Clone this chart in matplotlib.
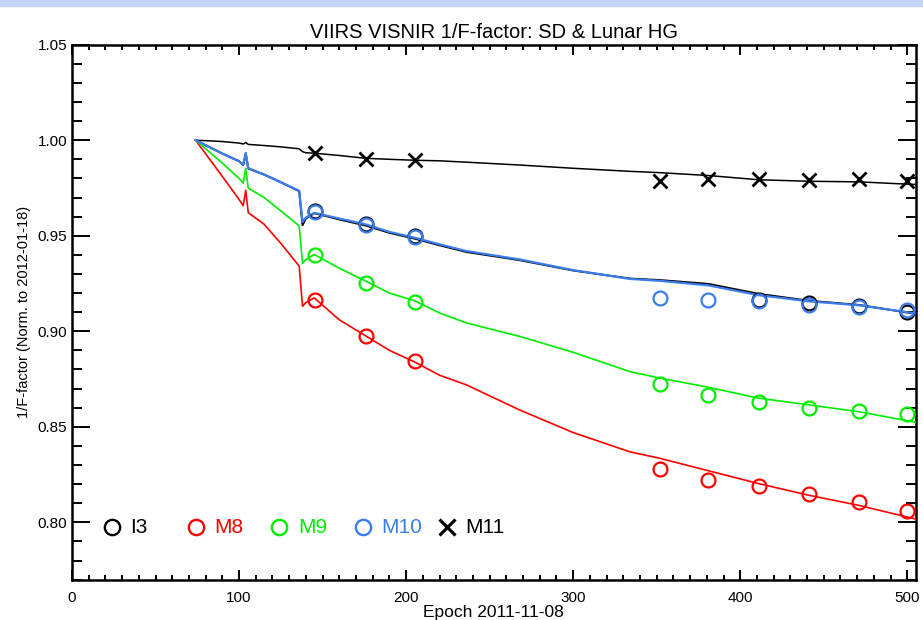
"""VIIRS VISNIR 1/F-factor trends (SD + lunar), recreated from the slide figure."""

import numpy as np
import matplotlib
matplotlib.use("Agg")
import matplotlib.pyplot as plt
from matplotlib.patches import Rectangle
from matplotlib.ticker import MultipleLocator, FormatStrFormatter

plt.rcParams["font.family"] = ["Liberation Sans", "DejaVu Sans"]

# --- SD-based 1/F-factor curves (days since 2011-11-08) ---
sd_epoch = [74, 90, 100, 102.5, 104, 105.5, 115, 125, 136, 138, 140, 145, 160, 176,
            190, 205, 220, 236, 268, 300, 334, 352, 381, 411, 441, 471, 500, 506]
sd_m8 = [1.000, 0.981, 0.969, 0.9657, 0.9738, 0.9621, 0.956, 0.946, 0.9341, 0.9131, 0.9150,
         0.9175, 0.906, 0.8975, 0.890, 0.884, 0.877, 0.872, 0.8588, 0.847, 0.8369, 0.8335,
         0.8270, 0.8203, 0.8142, 0.8089, 0.8028, 0.8015]
sd_m9 = [1.000, 0.988, 0.980, 0.9775, 0.9853, 0.9749, 0.970, 0.963, 0.9552, 0.9355, 0.9375,
         0.9402, 0.933, 0.9262, 0.920, 0.9160, 0.9096, 0.9044, 0.8973, 0.889, 0.8789, 0.8755,
         0.8707, 0.8650, 0.8615, 0.8579, 0.8532, 0.8522]
sd_m10 = [1.000, 0.993, 0.989, 0.9871, 0.9933, 0.9854, 0.982, 0.978, 0.9735, 0.9572, 0.9595,
          0.9620, 0.959, 0.9559, 0.952, 0.949, 0.9455, 0.942, 0.9376, 0.932, 0.9274, 0.9264,
          0.9240, 0.9189, 0.9157, 0.9136, 0.9100, 0.9092]
sd_i3 = [1.000, 0.993, 0.989, 0.9870, 0.9930, 0.9852, 0.982, 0.978, 0.9733, 0.9555, 0.9590,
         0.9618, 0.9585, 0.9553, 0.9515, 0.9485, 0.9450, 0.9415, 0.9372, 0.9318, 0.9276, 0.9268,
         0.9248, 0.9196, 0.9160, 0.9138, 0.9098, 0.9090]
sd_m11 = [1.000, 0.9993, 0.9985, 0.9980, 0.9988, 0.9978, 0.9972, 0.9965, 0.9955, 0.9940, 0.9934,
          0.9932, 0.9920, 0.9905, 0.9900, 0.9895, 0.9892, 0.9885, 0.9870, 0.9853, 0.9837, 0.9830,
          0.9815, 0.9793, 0.9785, 0.9782, 0.9770, 0.9768]

# --- lunar-based points ---
lunar_epoch = [145.5, 176, 205.3, 352, 381, 411, 441, 471, 500]
lunar_m8 = [0.9163, 0.8977, 0.8842, 0.8278, 0.8221, 0.8191, 0.8151, 0.8107, 0.8058]
lunar_m9 = [0.9397, 0.9254, 0.9153, 0.8723, 0.8667, 0.8629, 0.8600, 0.8581, 0.8566]
lunar_m10 = [0.9625, 0.9557, 0.9492, 0.9174, 0.9166, 0.9157, 0.9138, 0.9128, 0.9113]
lunar_i3 = [0.9630, 0.9562, 0.9500, np.nan, np.nan, 0.9166, 0.9149, 0.9130, 0.9101]
lunar_m11 = [0.9932, 0.9903, 0.9897, 0.9784, 0.9796, 0.9796, 0.9791, 0.9796, 0.9784]

band_names = ["I3", "M8", "M9", "M10", "M11"]

RED, GREEN, BLUE, BLACK = "#ff0000", "#00ee00", "#3b7ded", "#000000"
band_colors = [BLACK, RED, GREEN, BLUE, BLACK]
band_marks = ["o", "o", "o", "o", "x"]

fig = plt.figure(figsize=(9.23, 6.20), dpi=100)
fig.patches.append(Rectangle((0, 0.991), 1, 0.009, transform=fig.transFigure,
                             color="#c6d3fa", zorder=0))
ax = fig.add_axes([0.078, 0.065, 0.914, 0.863])

ax.plot(sd_epoch, sd_m11, color=BLACK, lw=1.1, zorder=2)
ax.plot(sd_epoch, sd_i3, color=BLACK, lw=1.4, zorder=2)
ax.plot(sd_epoch, sd_m8, color=RED, lw=1.2, zorder=3)
ax.plot(sd_epoch, sd_m9, color=GREEN, lw=1.2, zorder=3)
ax.plot(sd_epoch, sd_m10, color=BLUE, lw=1.6, zorder=3)

circ = dict(ls="none", marker="o", ms=10, mfc="none", mew=1.6, zorder=4)
ax.plot(lunar_epoch, lunar_i3, color=BLACK, **circ)
ax.plot(lunar_epoch, lunar_m8, color=RED, **circ)
ax.plot(lunar_epoch, lunar_m9, color=GREEN, **circ)
ax.plot(lunar_epoch, lunar_m10, color=BLUE, **circ)
ax.plot(lunar_epoch, lunar_m11, color=BLACK, ls="none", marker="x", ms=10.5, mew=2, zorder=4)

ax.set_xlim(0, 505)
ax.set_ylim(0.77, 1.05)
ax.xaxis.set_major_locator(MultipleLocator(100))
ax.xaxis.set_minor_locator(MultipleLocator(10))
ax.yaxis.set_major_locator(MultipleLocator(0.05))
ax.yaxis.set_minor_locator(MultipleLocator(0.01))
ax.yaxis.set_major_formatter(FormatStrFormatter("%.2f"))
ax.tick_params(which="both", direction="in", top=True, right=True, width=1.4, labelsize=11)
ax.tick_params(axis="x", which="major", length=7.5, pad=8)
ax.tick_params(axis="x", which="minor", length=3.5)
ax.tick_params(axis="y", which="major", length=13, pad=3.5)
ax.tick_params(axis="y", which="minor", length=7)
for s in ax.spines.values():
    s.set_linewidth(1.8)

ax.set_title("VIIRS VISNIR 1/F-factor: SD & Lunar HG", fontsize=14.5, pad=5)
ax.set_xlabel("Epoch 2011-11-08", fontsize=12.5, labelpad=0)
ax.set_ylabel("1/F-factor (Norm. to 2012-01-18)", fontsize=10.5, labelpad=5)

# legend row in IDL style: equally spaced marker + coloured label
for i, (name, c, m) in enumerate(zip(band_names, band_colors, band_marks)):
    x0 = 0.0474 + i * 0.0992
    ax.plot([x0], [0.098], transform=ax.transAxes, ls="none", marker=m, ms=11,
            mfc="none", color=c, mew=1.7 if m == "o" else 2.3, clip_on=False)
    ax.text(x0 + 0.022, 0.098, name, transform=ax.transAxes, color=c,
            fontsize=15, va="center", ha="left")

fig.savefig("out.png", dpi=100)
